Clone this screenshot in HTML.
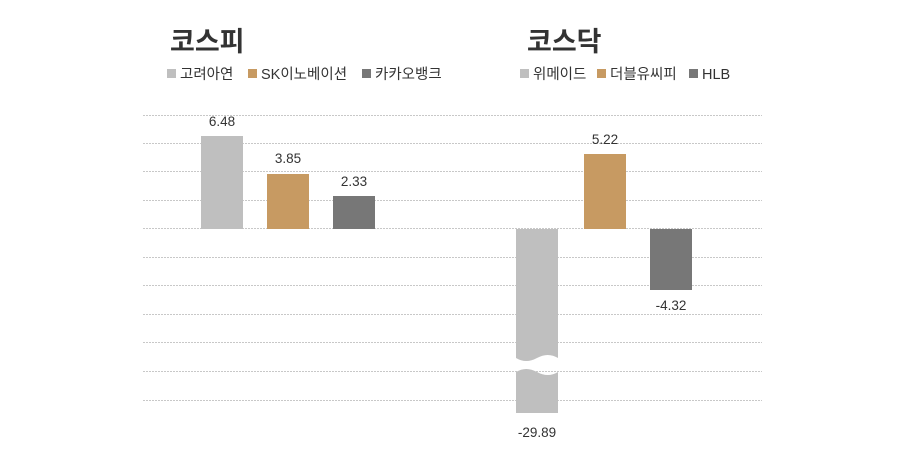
<!DOCTYPE html>
<html><head><meta charset="utf-8"><style>
body{margin:0;background:#fff;}
svg{display:block;font-family:"Liberation Sans","Noto Sans CJK KR",sans-serif;}
</style></head><body>
<svg width="900" height="450" xmlns="http://www.w3.org/2000/svg">
<g stroke="#c8c8c8" stroke-width="1" stroke-dasharray="2,1">
<line x1="143" x2="762" y1="115.5" y2="115.5"/>
<line x1="143" x2="762" y1="143.5" y2="143.5"/>
<line x1="143" x2="762" y1="171.5" y2="171.5"/>
<line x1="143" x2="762" y1="200.5" y2="200.5"/>
<line x1="143" x2="762" y1="228.5" y2="228.5"/>
<line x1="143" x2="762" y1="257.5" y2="257.5"/>
<line x1="143" x2="762" y1="285.5" y2="285.5"/>
<line x1="143" x2="762" y1="314.5" y2="314.5"/>
<line x1="143" x2="762" y1="342.5" y2="342.5"/>
<line x1="143" x2="762" y1="371.5" y2="371.5"/>
<line x1="143" x2="762" y1="400.5" y2="400.5"/>
</g>
<text x="170" y="51" font-size="27" font-weight="bold" fill="#333">코스피</text>
<text x="527" y="51" font-size="27" font-weight="bold" fill="#333">코스닥</text>
<g font-size="14.5" fill="#333">
<rect x="167" y="69" width="9" height="9" fill="#bfbfbf"/><text x="180" y="79">고려아연</text>
<rect x="248" y="69" width="9" height="9" fill="#c79a62"/><text x="261" y="79">SK이노베이션</text>
<rect x="362" y="69" width="9" height="9" fill="#777"/><text x="375" y="79">카카오뱅크</text>
<rect x="520" y="69" width="9" height="9" fill="#bfbfbf"/><text x="533" y="79">위메이드</text>
<rect x="597" y="69" width="9" height="9" fill="#c79a62"/><text x="610" y="79">더블유씨피</text>
<rect x="689" y="69" width="9" height="9" fill="#777"/><text x="702" y="79">HLB</text>
</g>
<rect x="201" y="136" width="42" height="93" fill="#bfbfbf"/>
<rect x="267" y="174" width="42" height="55" fill="#c79a62"/>
<rect x="333" y="196" width="42" height="33" fill="#777"/>
<path d="M516 229 H558 V358 Q548 352 537 358 Q526 364 516 358 Z" fill="#bfbfbf"/>
<path d="M516 372 Q526 366 537 372 Q548 378 558 372 V413 H516 Z" fill="#bfbfbf"/>
<rect x="584" y="154" width="42" height="75" fill="#c79a62"/>
<rect x="650" y="229" width="42" height="61" fill="#777"/>
<g font-size="13.5" fill="#333" text-anchor="middle">
<text x="222" y="126">6.48</text>
<text x="288" y="163">3.85</text>
<text x="354" y="186">2.33</text>
<text x="537" y="437">-29.89</text>
<text x="605" y="144">5.22</text>
<text x="671" y="310">-4.32</text>
</g>
</svg>
</body></html>
